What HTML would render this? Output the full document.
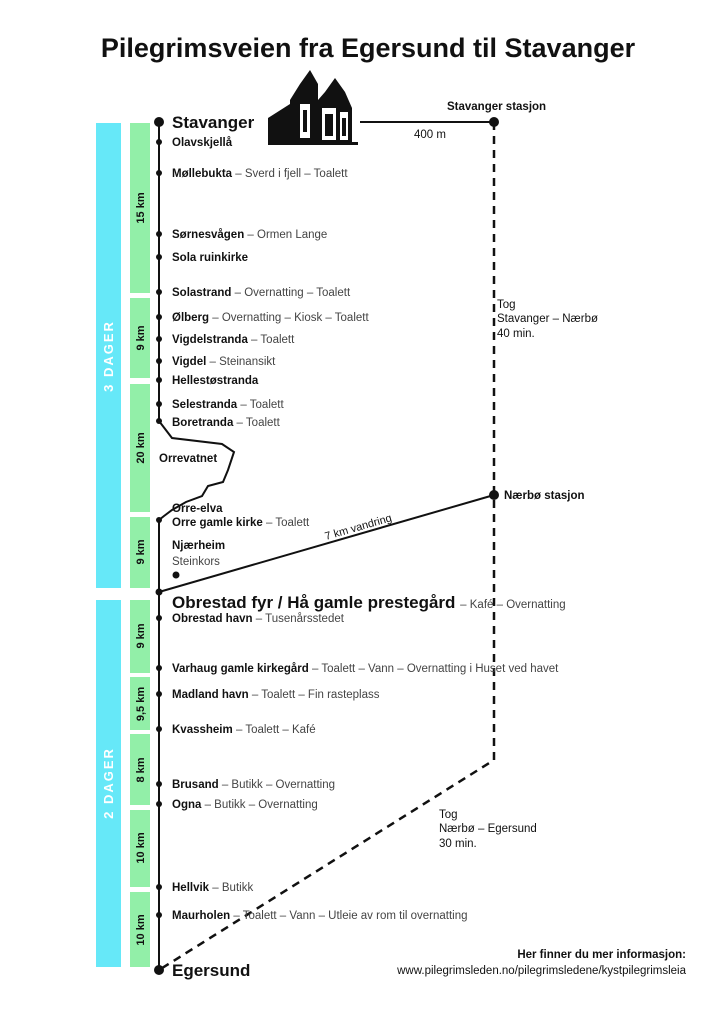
<!DOCTYPE html>
<html><head><meta charset="utf-8"><style>
body{margin:0;background:#fff}
svg{display:block}
text{font-family:"Liberation Sans",sans-serif;fill:#111}
.b{font-weight:bold;font-size:11.5px}
.n{font-weight:normal;fill:#444}
.v{font-weight:bold;font-size:11px;fill:#111}
.w{font-weight:bold;font-size:13px;fill:#fff;letter-spacing:2px}
</style></head><body>
<svg width="724" height="1024" viewBox="0 0 724 1024" xmlns="http://www.w3.org/2000/svg">
<text x="368" y="57" text-anchor="middle" font-size="27" font-weight="bold" fill="#000">Pilegrimsveien fra Egersund til Stavanger</text>
<g fill="#66e8f8"><rect x="96" y="123" width="25" height="465"/><rect x="96" y="600" width="25" height="367"/></g>
<g fill="#92efa8">
<rect x="130" y="123" width="20" height="170"/><rect x="130" y="298" width="20" height="80"/><rect x="130" y="384" width="20" height="128"/><rect x="130" y="517" width="20" height="71"/>
<rect x="130" y="600" width="20" height="73"/><rect x="130" y="677" width="20" height="53"/><rect x="130" y="734" width="20" height="71"/><rect x="130" y="810" width="20" height="77"/><rect x="130" y="892" width="20" height="75"/>
</g>
<text class="w" transform="translate(113,356) rotate(-90)" text-anchor="middle">3 DAGER</text>
<text class="w" transform="translate(113,783) rotate(-90)" text-anchor="middle">2 DAGER</text>
<g class="v" text-anchor="middle">
<text transform="translate(144,208) rotate(-90)">15 km</text>
<text transform="translate(144,338) rotate(-90)">9 km</text>
<text transform="translate(144,448) rotate(-90)">20 km</text>
<text transform="translate(144,552) rotate(-90)">9 km</text>
<text transform="translate(144,636) rotate(-90)">9 km</text>
<text transform="translate(144,704) rotate(-90)">9,5 km</text>
<text transform="translate(144,770) rotate(-90)">8 km</text>
<text transform="translate(144,848) rotate(-90)">10 km</text>
<text transform="translate(144,930) rotate(-90)">10 km</text>
</g>
<g stroke="#111" stroke-width="2" fill="none">
<polyline points="159,122 159,421 172,438 222,444 234,452 228,470 223,482 208,486 202,496 186,502 172,510 164,516 159,520 159,970"/>
<line x1="159" y1="592" x2="494" y2="495"/>
<line x1="360" y1="122" x2="494" y2="122"/>
<polyline points="494,122 494,760 159,970" stroke-dasharray="8,6" stroke-width="2.5"/>
</g>
<g fill="#111">
<circle cx="159" cy="122" r="5"/><circle cx="159" cy="970" r="5"/><circle cx="494" cy="122" r="5"/><circle cx="494" cy="495" r="5"/>
<circle cx="159" cy="592" r="3.5"/><circle cx="176" cy="575" r="3.5"/>
<circle cx="159" cy="142" r="3"/><circle cx="159" cy="173" r="3"/><circle cx="159" cy="234" r="3"/><circle cx="159" cy="257" r="3"/><circle cx="159" cy="292" r="3"/><circle cx="159" cy="317" r="3"/><circle cx="159" cy="339" r="3"/><circle cx="159" cy="361" r="3"/><circle cx="159" cy="380" r="3"/><circle cx="159" cy="404" r="3"/><circle cx="159" cy="421" r="3"/><circle cx="159" cy="520" r="3"/>
<circle cx="159" cy="618" r="3"/><circle cx="159" cy="668" r="3"/><circle cx="159" cy="694" r="3"/><circle cx="159" cy="729" r="3"/><circle cx="159" cy="784" r="3"/><circle cx="159" cy="804" r="3"/><circle cx="159" cy="887" r="3"/><circle cx="159" cy="915" r="3"/>
</g>
<g fill="#111">
<rect x="268" y="142" width="90" height="3"/>
<polygon points="268,142 268,118 290,104 290,142"/>
<polygon points="290,142 290,100 300,84 310,70 318,84 318,100 325,92 335,78 345,92 352,108 352,142"/>
<rect x="300" y="104" width="10" height="34" fill="#fff"/><rect x="322" y="108" width="14" height="32" fill="#fff"/><rect x="340" y="112" width="8" height="28" fill="#fff"/>
<rect x="303" y="110" width="4" height="22"/><rect x="325" y="114" width="8" height="22"/><rect x="342" y="118" width="4" height="18"/>
</g>
<text x="172" y="128" font-size="17" font-weight="bold">Stavanger</text>
<text x="172" y="146" class="b">Olavskjellå</text>
<text x="172" y="177" class="b">Møllebukta <tspan class="n"> –  Sverd i fjell – Toalett</tspan></text>
<text x="172" y="238" class="b">Sørnesvågen <tspan class="n"> –  Ormen Lange</tspan></text>
<text x="172" y="261" class="b">Sola ruinkirke</text>
<text x="172" y="296" class="b">Solastrand <tspan class="n">– Overnatting – Toalett</tspan></text>
<text x="172" y="321" class="b">Ølberg <tspan class="n">– Overnatting – Kiosk – Toalett</tspan></text>
<text x="172" y="343" class="b">Vigdelstranda <tspan class="n">– Toalett</tspan></text>
<text x="172" y="365" class="b">Vigdel <tspan class="n">– Steinansikt</tspan></text>
<text x="172" y="384" class="b">Hellestøstranda</text>
<text x="172" y="408" class="b">Selestranda <tspan class="n">– Toalett</tspan></text>
<text x="172" y="426" class="b">Boretranda <tspan class="n">– Toalett</tspan></text>
<text x="159" y="462" class="b">Orrevatnet</text>
<text x="172" y="512" class="b">Orre-elva</text>
<text x="172" y="526" class="b">Orre gamle kirke <tspan class="n">– Toalett</tspan></text>
<text x="172" y="549" class="b">Njærheim</text>
<text x="172" y="565" class="b"><tspan class="n">Steinkors</tspan></text>
<text x="326" y="540" font-size="11" fill="#333" transform="rotate(-16 326 540)">7 km vandring</text>
<text x="172" y="608" font-size="17" font-weight="bold">Obrestad fyr / Hå gamle prestegård <tspan font-size="11.5" font-weight="normal" fill="#444">– Kafé – Overnatting</tspan></text>
<text x="172" y="622" class="b">Obrestad havn <tspan class="n">– Tusenårsstedet</tspan></text>
<text x="172" y="672" class="b">Varhaug gamle kirkegård <tspan class="n">– Toalett – Vann – Overnatting i Huset ved havet</tspan></text>
<text x="172" y="698" class="b">Madland havn <tspan class="n"> – Toalett – Fin rasteplass</tspan></text>
<text x="172" y="733" class="b">Kvassheim <tspan class="n"> – Toalett – Kafé</tspan></text>
<text x="172" y="788" class="b">Brusand <tspan class="n">– Butikk – Overnatting</tspan></text>
<text x="172" y="808" class="b">Ogna <tspan class="n">– Butikk – Overnatting</tspan></text>
<text x="172" y="891" class="b">Hellvik <tspan class="n"> – Butikk</tspan></text>
<text x="172" y="919" class="b">Maurholen <tspan class="n">– Toalett – Vann – Utleie av rom til overnatting</tspan></text>
<text x="172" y="976" font-size="17" font-weight="bold">Egersund</text>
<text x="447" y="110" class="b">Stavanger stasjon</text>
<text x="414" y="138" font-size="11.5" fill="#333">400 m</text>
<text x="504" y="499" class="b">Nærbø stasjon</text>
<g font-size="11.5" fill="#333"><text x="497" y="308">Tog</text><text x="497" y="322">Stavanger – Nærbø</text><text x="497" y="337">40 min.</text>
<text x="439" y="818">Tog</text><text x="439" y="832">Nærbø – Egersund</text><text x="439" y="847">30 min.</text></g>
<text x="686" y="958" class="b" text-anchor="end">Her finner du mer informasjon:</text>
<text x="686" y="974" font-size="11.5" fill="#333" text-anchor="end">www.pilegrimsleden.no/pilegrimsledene/kystpilegrimsleia</text>
</svg>
</body></html>
